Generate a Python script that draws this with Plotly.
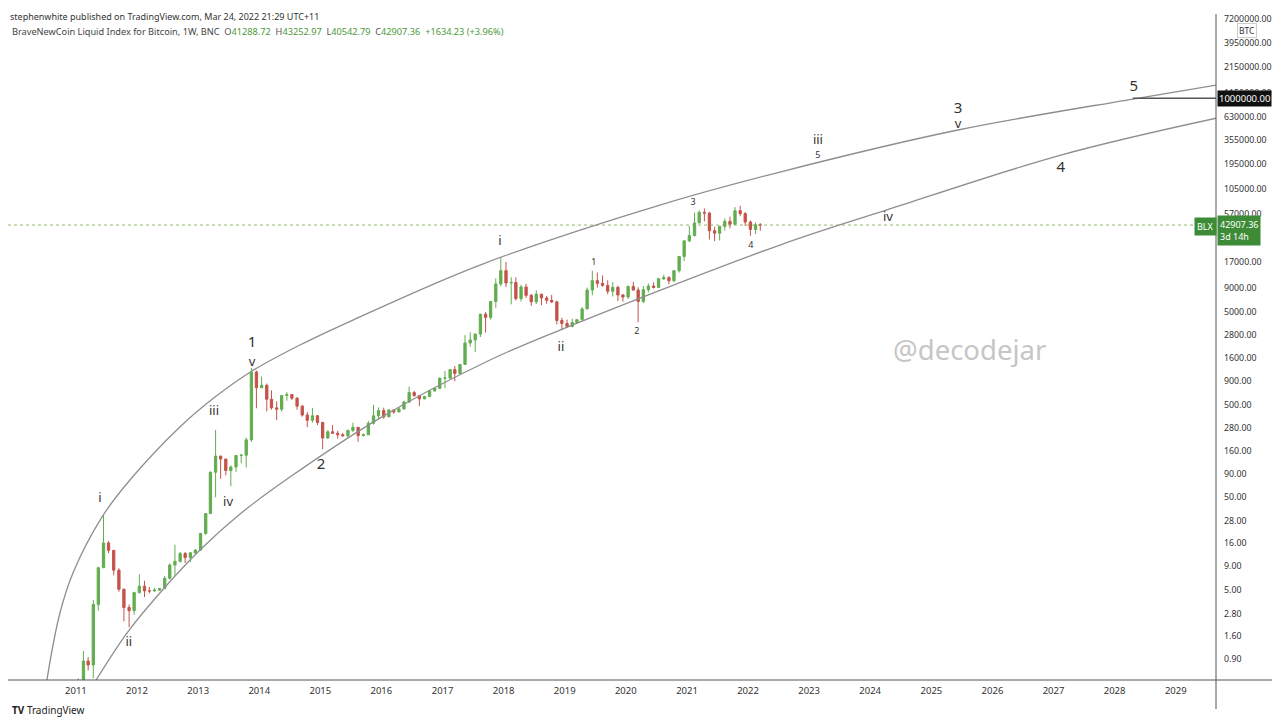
import math
from datetime import datetime, timedelta
import pandas as pd
import plotly.graph_objects as go

# ---------------- data (monthly candles) ----------------
open_px = [
    0.30, 0.52, 0.86, 0.78, 3.50, 8.70, 16.10, 13.40, 8.20, 5.10, 3.25, 3.00,
    4.70, 5.50, 4.90, 4.90, 5.00, 5.20, 6.70, 9.30, 10.20, 12.40, 11.20, 12.60,
    13.50, 20.40, 33.40, 93.0, 139.0, 129.0, 97.0, 106.0, 141.0, 142.0, 208.0, 1120.0,
    757, 805, 570, 460, 445, 625, 640, 585, 480, 385, 338, 378,
    320, 218, 254, 245, 236, 230, 263, 284, 231, 236, 314, 377,
    430, 368, 437, 416, 448, 531, 673, 624, 575, 608, 700, 745,
    960, 965, 1190, 1080, 1350, 2300, 2480, 2870, 4700, 4340, 6450, 9950,
    13850, 10200, 10330, 6930, 9240, 7500, 6390, 7730, 7030, 6630, 6370, 4020,
    3740, 3460, 3820, 4100, 5350, 8560, 10800, 10100, 9600, 8300, 9150, 7570,
    7200, 9350, 8550, 6440, 8630, 9450, 9140, 11330, 11650, 10780, 13800, 19700,
    28990, 33100, 45200, 58800, 57700, 37300, 35040, 41500, 47100, 43800, 61300, 57000,
    46300, 38500, 43200,
]
high_px = [
    0.56, 1.10, 0.95, 3.90, 8.90, 31.90, 16.90, 13.50, 8.60, 5.20, 3.50, 4.80,
    7.40, 6.30, 5.40, 5.30, 5.20, 7.10, 9.70, 15.40, 12.90, 12.90, 12.80, 13.80,
    20.70, 33.60, 95.0, 266.0, 140.0, 130.0, 110.0, 142.0, 147.0, 220.0, 1240.0, 1163.0,
    1000, 840, 710, 540, 630, 680, 640, 600, 495, 415, 460, 385,
    325, 265, 300, 260, 247, 268, 318, 286, 245, 333, 495, 465,
    462, 445, 440, 465, 550, 780, 700, 625, 620, 720, 755, 975,
    1150, 1200, 1300, 1350, 2790, 3000, 2900, 4750, 4980, 6450, 11400, 19300,
    17200, 11750, 11700, 9750, 9980, 7760, 8500, 7760, 7400, 7600, 6600, 4300,
    4100, 4200, 4100, 5600, 9100, 13800, 13200, 12300, 10900, 10400, 9520, 7750,
    9600, 10500, 9190, 9470, 10070, 10380, 11440, 12480, 12070, 14100, 19900, 29300,
    41950, 58350, 61700, 64850, 59500, 41300, 42200, 50500, 52900, 67000, 69000, 59100,
    47900, 45800, 45000,
]
low_px = [
    0.29, 0.52, 0.68, 0.56, 3.00, 8.70, 12.50, 7.20, 4.80, 2.30, 1.99, 2.70,
    4.60, 4.20, 4.60, 4.80, 4.90, 5.20, 6.50, 7.10, 9.90, 9.80, 10.00, 12.20,
    13.20, 19.70, 33.20, 50.0, 79.0, 86.0, 66.0, 94.0, 116.0, 105.0, 198.0, 455.0,
    750, 420, 440, 340, 420, 550, 560, 440, 370, 285, 320, 300,
    165, 212, 240, 215, 226, 218, 251, 198, 226, 235, 303, 350,
    350, 365, 395, 412, 440, 520, 605, 480, 570, 605, 690, 745,
    750, 940, 890, 1060, 1340, 2100, 1830, 2670, 2980, 4100, 5500, 9400,
    9200, 6000, 6600, 6430, 7040, 5780, 6070, 5880, 6100, 6200, 3650, 3150,
    3350, 3400, 3700, 4050, 5330, 7500, 9100, 9300, 7700, 7300, 6500, 6430,
    6860, 8450, 3850, 6200, 8120, 8910, 8990, 10960, 9880, 10380, 13200, 17600,
    28100, 32300, 44950, 47000, 30000, 28800, 29300, 37300, 39600, 43300, 53300, 42000,
    32950, 34300, 37200,
]
close_px = [
    0.52, 0.86, 0.78, 3.50, 8.70, 16.10, 13.40, 8.20, 5.10, 3.25, 3.00, 4.70,
    5.50, 4.90, 4.90, 5.00, 5.20, 6.70, 9.30, 10.20, 12.40, 11.20, 12.60, 13.50,
    20.40, 33.40, 93.0, 139.0, 129.0, 97.0, 106.0, 141.0, 142.0, 208.0, 1120.0, 757.0,
    805, 570, 460, 445, 625, 640, 585, 480, 385, 338, 378, 320,
    218, 254, 245, 236, 230, 263, 284, 231, 236, 314, 377, 430,
    368, 437, 416, 448, 531, 673, 624, 575, 608, 700, 745, 960,
    965, 1190, 1080, 1350, 2300, 2480, 2870, 4700, 4340, 6450, 9950, 13850,
    10200, 10330, 6930, 9240, 7500, 6390, 7730, 7030, 6630, 6370, 4020, 3740,
    3460, 3820, 4100, 5350, 8560, 10800, 10100, 9600, 8300, 9150, 7570, 7200,
    9350, 8550, 6440, 8630, 9450, 9140, 11330, 11650, 10780, 13800, 19700, 28990,
    33100, 45200, 58800, 57700, 37300, 35040, 41500, 47100, 43800, 61300, 57000, 46300,
    38500, 43200, 42907.36,
]
first_month = "2011-01-01"

# channel curves (decimal year, price)
upper_years = [2010.510, 2010.525, 2010.738, 2010.951, 2011.426, 2011.884, 2012.702,
               2013.275, 2013.881, 2014.666, 2015.534, 2017.612, 2020.558, 2022.522,
               2025.435, 2028.299, 2029.674]
upper_prices = [0.45, 0.537, 2.83, 7.64, 30.6, 76.7, 286,
                601, 1148, 2188, 4065, 15920, 70500, 160000,
                454000, 979000, 1387000]
lower_years = [2011.311, 2011.835, 2012.375, 2013.029, 2013.684, 2014.502, 2015.975,
               2017.776, 2018.921, 2022.522, 2024.273, 2027.121, 2029.674]
lower_prices = [0.511, 1.72, 4.65, 13.5, 33.0, 82.6, 357, 1507, 3170, 26130, 62400,
                243800, 611000]

# wave labels (decimal year, price, text, size)
wave_years = [2011.393, 2011.867, 2013.259, 2013.488, 2013.881, 2013.881, 2015.010,
              2017.939, 2018.938, 2019.478, 2020.182, 2021.098, 2022.047,
              2023.144, 2023.144, 2024.290, 2025.435, 2025.435, 2027.121, 2028.316]
wave_prices = [47.9, 1.35, 415, 43.4, 2297, 1400, 111,
               28180, 2029, 16710, 3020, 74100, 25500,
               345000, 237700, 51000, 764000, 513000, 176600, 1318000]
wave_texts = ["i", "ii", "iii", "iv", "1", "v", "2",
              "i", "ii", "1", "2", "3", "4",
              "iii", "5", "iv", "3", "v", "4", "5"]
wave_sizes = [13, 13, 13, 13, 15, 13, 15,
              13, 13, 9, 9, 9, 9,
              13, 9, 13, 15, 13, 15, 15]

target_year = 2028.299
target_price = 1000000
last_price = 42907.36

y_ticks = [0.9, 1.6, 2.8, 5, 9, 16, 28, 50, 90, 160, 280, 500, 900, 1600, 2800, 5000,
           9000, 17000, 57000, 105000, 195000, 355000, 630000, 1150000, 2150000,
           3950000, 7200000]
x_years = list(range(2011, 2030))

# ---------------- helpers ----------------
def yd(y):
    yr = int(math.floor(y))
    return datetime(yr, 1, 1) + timedelta(days=(y - yr) * 365.25)

# page body has an 8px margin: figure is drawn 8px right/down of the window origin
OFF = 8
W, H = 1280 - OFF, 718 - OFF
L, R, T, B = 8, 1216, 14, 680          # plot area in reference (window) pixels
def px(x):
    return (x - L) / (R - L)
def py(y):
    return (B - y) / (B - T)

GREEN = "#62ad50"
RED = "#c4534b"
FONT = "Noto Sans"

months = pd.date_range(first_month, periods=len(close_px), freq="MS") + pd.Timedelta(days=14)
x_start, x_end = yd(2011 - (76 - L) / 61.1), yd(2011 + (R - 76) / 61.1)

fig = go.Figure()

fig.add_trace(go.Scatter(x=[x_start, x_end], y=[last_price, last_price], mode="lines",
                         line=dict(color="rgba(130,170,80,0.85)", width=1, dash="dot"),
                         hoverinfo="skip"))

fig.add_trace(go.Candlestick(
    x=months, open=open_px, high=high_px, low=low_px, close=close_px,
    increasing=dict(line=dict(color=GREEN, width=1), fillcolor=GREEN),
    decreasing=dict(line=dict(color=RED, width=1), fillcolor=RED),
    whiskerwidth=0, hoverinfo="skip"))

for ys, ps in [(upper_years, upper_prices), (lower_years, lower_prices)]:
    fig.add_trace(go.Scatter(x=[yd(v) for v in ys], y=ps, mode="lines",
                             line=dict(color="#8e8e8e", width=1.3, shape="spline", smoothing=1.0),
                             hoverinfo="skip"))

fig.add_trace(go.Scatter(x=[yd(target_year), x_end], y=[target_price, target_price], mode="lines",
                         line=dict(color="#555555", width=1.5), hoverinfo="skip"))

fig.add_trace(go.Scatter(x=[yd(v) for v in wave_years], y=wave_prices, mode="text",
                         text=wave_texts, textposition="middle center",
                         textfont=dict(size=wave_sizes, color="#333333", family=FONT),
                         cliponaxis=False, hoverinfo="skip"))

val = "#4c9a3a"
lab = "#555555"
title = ("BraveNewCoin Liquid Index for Bitcoin, 1W, BNC&nbsp;&nbsp;"
         f"<span style='color:{lab}'>O</span><span style='color:{val}'>41288.72</span>&nbsp;&nbsp;"
         f"<span style='color:{lab}'>H</span><span style='color:{val}'>43252.97</span>&nbsp;&nbsp;"
         f"<span style='color:{lab}'>L</span><span style='color:{val}'>40542.79</span>&nbsp;&nbsp;"
         f"<span style='color:{lab}'>C</span><span style='color:{val}'>42907.36</span>&nbsp;&nbsp;"
         f"<span style='color:{val}'>+1634.23 (+3.96%)</span>")

annotations = [
    dict(x=px(9), y=py(9), xref="paper", yref="paper", xanchor="left", yanchor="top",
         text="stephenwhite published on TradingView.com, Mar 24, 2022 21:29 UTC+11",
         showarrow=False, borderpad=0, font=dict(size=9, color="#333333", family=FONT)),
    dict(x=px(10), y=py(31), xref="paper", yref="paper", xanchor="left", yanchor="middle",
         text=title, showarrow=False, font=dict(size=9.2, color="#444444", family=FONT)),
    dict(x=px(969), y=py(350), xref="paper", yref="paper", xanchor="center", yanchor="middle",
         text="@decodejar", showarrow=False, font=dict(size=27.5, color="#c6c6c6", family=FONT)),
    dict(x=px(1205), y=py(226), xref="paper", yref="paper", xanchor="center", yanchor="middle",
         text="BLX", showarrow=False, bgcolor="#3d8b37", borderpad=2,
         font=dict(size=9, color="white", family=FONT)),
    dict(x=px(1217), y=py(230), xref="paper", yref="paper", xanchor="left", yanchor="middle",
         text="42907.36<br>3d 14h", align="left", showarrow=False, bgcolor="#3d8b37", borderpad=2,
         font=dict(size=9, color="white", family=FONT)),
    dict(x=px(1217), y=py(99), xref="paper", yref="paper", xanchor="left", yanchor="middle",
         text="1000000.00", showarrow=False, bgcolor="#111111", borderpad=1,
         font=dict(size=9.5, color="white", family=FONT)),
    dict(x=px(1247), y=py(30), xref="paper", yref="paper", xanchor="center", yanchor="middle",
         text="BTC", showarrow=False, bordercolor="#cccccc", borderwidth=1, borderpad=1,
         bgcolor="white", font=dict(size=8.5, color="#333333", family=FONT)),
    dict(x=px(10), y=py(710), xref="paper", yref="paper", xanchor="left", yanchor="middle",
         text="<b>TV</b> TradingView", showarrow=False,
         font=dict(size=10, color="#222222", family=FONT)),
]

shapes = [
    dict(type="line", xref="paper", yref="paper", x0=0, x1=px(1280), y0=0, y1=0,
         line=dict(color="#555555", width=1)),
    dict(type="line", xref="paper", yref="paper", x0=1, x1=1, y0=py(709), y1=1,
         line=dict(color="#555555", width=1)),
]

fig.update_layout(
    width=W, height=H,
    margin=dict(l=L - OFF, r=1280 - R, t=T - OFF, b=718 - B),
    paper_bgcolor="white", plot_bgcolor="white",
    showlegend=False,
    annotations=annotations, shapes=shapes,
    xaxis=dict(type="date", range=[x_start, x_end],
               tickvals=[datetime(y, 1, 1) for y in x_years],
               ticktext=[str(y) for y in x_years],
               showgrid=False, zeroline=False, showline=False, ticks="",
               ticklabelstandoff=3,
               tickfont=dict(size=9.5, color="#333333", family=FONT),
               rangeslider=dict(visible=False)),
    yaxis=dict(type="log", side="right", range=[-0.270, 6.907],
               tickvals=y_ticks, ticktext=[f"{v:.2f}" for v in y_ticks],
               showgrid=False, zeroline=False, showline=False, ticks="",
               ticklabelstandoff=7,
               tickfont=dict(size=8.8, color="#333333", family=FONT)),
)

fig.write_html("out.html")
